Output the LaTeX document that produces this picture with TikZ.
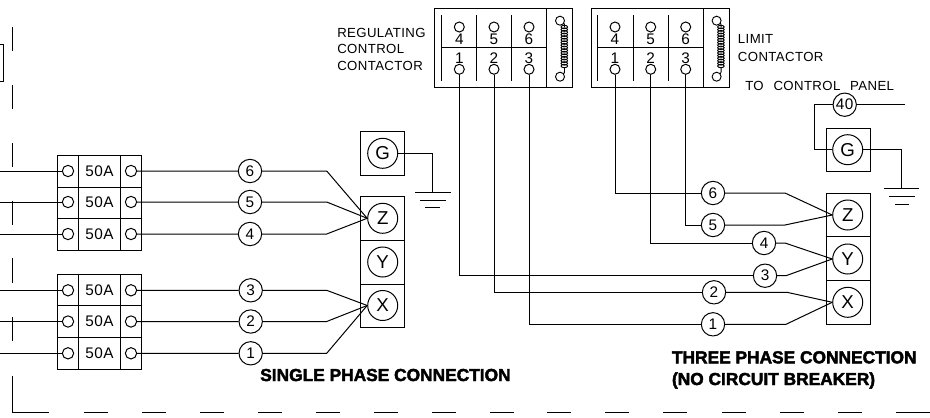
\documentclass[tikz,border=0pt]{standalone}
\usepackage{fontspec}
\setmainfont[LetterSpace=3,WordSpace=2.4]{Liberation Sans}
\newfontfamily\titlefont[FakeBold=2.5]{Liberation Sans Bold}
\usepackage{tikz}
\usetikzlibrary{calc}
\def\coilat(#1,#2){
	\draw[coilwire] (#1+1, #2-27.3) circle (4.5);
	\draw[coilwire] (#1+1, #2+28.7) circle (4.5);
	\draw[coilwire] (#1+4.5, #2-25) .. controls (#1+5.5, #2-24) .. (#1+5.5, #2-21);
	\draw[coilwire] (#1+4.5, #2+26) .. controls (#1+5.5, #2+25) .. (#1+5.5, #2+20);
	\foreach \coilstep in {-21,-18.4,...,20.5}
		\draw[coilwire] (#1+5.3, #2+\coilstep) ellipse (3.3 and 1.7);
}
\tikzset{
	plain/.style={line width=0.75pt, color=black},
	coilwire/.style={line width=0.7pt, color=black},
	frameline/.style={line width=0.8pt, color=black},
	termpt/.style={circle, draw, line width=0.75pt, minimum size=8.5pt, inner sep=0pt},
	contpt/.style={termpt, minimum size=7.5pt},
	wirenum/.style={circle, draw, line width=0.75pt, minimum size=17.5pt, inner sep=0pt, font=\fontsize{11.5}{11.5}\selectfont},
	phasept/.style={circle, draw, line width=0.75pt, minimum size=22.5pt, inner sep=0pt, font=\fontsize{14}{14}\selectfont},
	digit/.style={inner sep=0pt, font=\fontsize{11.5}{11.5}\selectfont},
	amps/.style={inner sep=0pt, font=\fontsize{11.5}{11.5}\selectfont},
	tag/.style={inner sep=0pt, anchor=base west, font=\fontsize{9.9}{9.9}\selectfont},
	title/.style={inner sep=0pt, anchor=base west, font=\fontsize{13}{13}\titlefont}
}
\begin{document}
\begin{tikzpicture}[x=0.75pt, y=-0.75pt]
	\useasboundingbox (0, 0) rectangle (930, 417);
	%%%%% FRAME %%%%%
	\draw[plain] (0, 44.7) -- (3.3, 44.7) -- (3.3, 81.7) -- (0, 81.7);
	\draw[frameline] (12.7, 27.3) -- (12.7, 50.7);
	\draw[frameline] (12.7, 85) -- (12.7, 109);
	\draw[frameline] (12.7, 143.3) -- (12.7, 166.7);
	\draw[frameline] (12.7, 201) -- (12.7, 225);
	\draw[frameline] (12.7, 258) -- (12.7, 283);
	\draw[frameline] (12.7, 317) -- (12.7, 341);
	\draw[frameline] (12.7, 375.7) -- (12.7, 412.3) -- (49.3, 412.3);
	\foreach \dashx in {84,142,200,258,316,374,432,490,547,605,663,722,780,838}
		\draw[frameline] (\dashx, 412.3) -- (\dashx+23.5, 412.3);
	\draw[frameline] (896, 412.3) -- (930, 412.3);

	%%%%% REGULATING CONTACTOR %%%%%
	\draw[plain] (434.7, 9) rectangle (572.7, 87.7);
	\draw[plain] (546.7, 9) -- (546.7, 87.7);
	\draw[plain] (441, 48) -- (546.7, 48);
	\draw[plain] (441, 15) -- (441, 81);
	\draw[plain] (476.7, 15) -- (476.7, 81);
	\draw[plain] (511.7, 15) -- (511.7, 81);
	\node[contpt] (ra4) at (459.3, 27) {};
	\node[contpt] (ra5) at (494, 27) {};
	\node[contpt] (ra6) at (529, 27) {};
	\node[contpt] (ra1) at (459.3, 69.3) {};
	\node[contpt] (ra2) at (494, 69.3) {};
	\node[contpt] (ra3) at (529, 69.3) {};
	\node[digit] (rd4) at (459.3, 39) {4};
	\node[digit] (rd5) at (494, 39) {5};
	\node[digit] (rd6) at (529, 39) {6};
	\node[digit] (rd1) at (459.3, 58) {1};
	\node[digit] (rd2) at (494, 58) {2};
	\node[digit] (rd3) at (529, 58) {3};
	\coilat(559, 48)
	\node[tag] (regA) at (337, 37.5) {REGULATING};
	\node[tag] (regB) at (337, 54) {CONTROL};
	\node[tag] (regC) at (337, 70.5) {CONTACTOR};

	%%%%% LIMIT CONTACTOR %%%%%
	\draw[plain] (591.3, 9) rectangle (729.3, 87.7);
	\draw[plain] (703.3, 9) -- (703.3, 87.7);
	\draw[plain] (597.6, 48) -- (703.3, 48);
	\draw[plain] (597.6, 15) -- (597.6, 81);
	\draw[plain] (633.3, 15) -- (633.3, 81);
	\draw[plain] (668.3, 15) -- (668.3, 81);
	\node[contpt] (li4) at (615, 27) {};
	\node[contpt] (li5) at (650.7, 27) {};
	\node[contpt] (li6) at (685.7, 27) {};
	\node[contpt] (li1) at (615, 69.3) {};
	\node[contpt] (li2) at (650.7, 69.3) {};
	\node[contpt] (li3) at (685.7, 69.3) {};
	\node[digit] (ld4) at (615, 39) {4};
	\node[digit] (ld5) at (650.7, 39) {5};
	\node[digit] (ld6) at (685.7, 39) {6};
	\node[digit] (ld1) at (615, 58) {1};
	\node[digit] (ld2) at (650.7, 58) {2};
	\node[digit] (ld3) at (685.7, 58) {3};
	\coilat(715.6, 48)
	\node[tag] (limA) at (737.7, 44) {LIMIT};
	\node[tag] (limB) at (737.7, 61.7) {CONTACTOR};
	\node[tag] (panel) at (745, 90.7) {TO CONTROL PANEL};

	%%%%% BREAKERS %%%%%
	\draw[plain] (57.3, 155.3) rectangle (141.7, 250);
	\draw[plain] (57.3, 187) -- (141.7, 187);
	\draw[plain] (57.3, 218.7) -- (141.7, 218.7);
	\draw[plain] (78.7, 155.3) -- (78.7, 250);
	\draw[plain] (120.3, 155.3) -- (120.3, 250);
	\draw[plain] (57.3, 274.3) rectangle (141.7, 369);
	\draw[plain] (57.3, 305.7) -- (141.7, 305.7);
	\draw[plain] (57.3, 337.3) -- (141.7, 337.3);
	\draw[plain] (78.7, 274.3) -- (78.7, 369);
	\draw[plain] (120.3, 274.3) -- (120.3, 369);
	\node[amps] (a6) at (99.5, 171) {50A};
	\node[amps] (a5) at (99.5, 202) {50A};
	\node[amps] (a4) at (99.5, 234) {50A};
	\node[amps] (a3) at (99.5, 290.3) {50A};
	\node[amps] (a2) at (99.5, 321.5) {50A};
	\node[amps] (a1) at (99.5, 353.3) {50A};
	\node[termpt] (bl6) at (68, 171) {};
	\node[termpt] (bl5) at (68, 202) {};
	\node[termpt] (bl4) at (68, 234) {};
	\node[termpt] (bl3) at (68, 290.3) {};
	\node[termpt] (bl2) at (68, 321.5) {};
	\node[termpt] (bl1) at (68, 353.3) {};
	\node[termpt] (br6) at (131, 171) {};
	\node[termpt] (br5) at (131, 202) {};
	\node[termpt] (br4) at (131, 234) {};
	\node[termpt] (br3) at (131, 290.3) {};
	\node[termpt] (br2) at (131, 321.5) {};
	\node[termpt] (br1) at (131, 353.3) {};
	\coordinate (in6) at (0, 171);
	\coordinate (in5) at (0, 202);
	\coordinate (in4) at (0, 234);
	\coordinate (in3) at (0, 290.3);
	\coordinate (in2) at (0, 321.5);
	\coordinate (in1) at (0, 353.3);
	\draw[plain] (in6) -- (bl6);
	\draw[plain] (in5) -- (bl5);
	\draw[plain] (in4) -- (bl4);
	\draw[plain] (in3) -- (bl3);
	\draw[plain] (in2) -- (bl2);
	\draw[plain] (in1) -- (bl1);

	%%%%% SINGLE PHASE %%%%%
	\draw[plain] (360.7, 131.3) rectangle (404.7, 175);
	\draw[plain] (360.7, 196.7) rectangle (404.7, 327.7);
	\draw[plain] (360.7, 240.4) -- (404.7, 240.4);
	\draw[plain] (360.7, 284) -- (404.7, 284);
	\node[phasept] (sG) at (382.7, 153.3) {G};
	\node[phasept] (sZ) at (382.7, 218.3) {Z};
	\node[phasept] (sY) at (382.7, 262) {Y};
	\node[phasept] (sX) at (382.7, 305.5) {X};
	\node[wirenum] (s6) at (250, 171) {6};
	\node[wirenum] (s5) at (250, 202) {5};
	\node[wirenum] (s4) at (250, 234) {4};
	\node[wirenum] (s3) at (250.7, 290.3) {3};
	\node[wirenum] (s2) at (250.7, 321.5) {2};
	\node[wirenum] (s1) at (250.7, 353.3) {1};
	\draw[plain] (br6) -- (s6) -- (326.7, 171) -- (sZ.west);
	\draw[plain] (br5) -- (s5) -- (326.7, 202) -- (sZ.west);
	\draw[plain] (br4) -- (s4) -- (326.7, 234) -- (sZ.west);
	\draw[plain] (br3) -- (s3) -- (326.7, 290.3) -- (sX.west);
	\draw[plain] (br2) -- (s2) -- (326.7, 321.5) -- (sX.west);
	\draw[plain] (br1) -- (s1) -- (326.7, 353.3) -- (sX.west);
	\coordinate (sgnd) at (432.7, 192);
	\draw[plain] (sG) -| (sgnd);
	\draw[plain] (415, 192) -- (450.7, 192);
	\draw[plain] (420, 200) -- (445.5, 200);
	\draw[plain] (425, 207.3) -- (440, 207.3);
	\node[title] (stitle) at (260, 381) {SINGLE PHASE CONNECTION};

	%%%%% THREE PHASE %%%%%
	\draw[plain] (826.7, 128.3) rectangle (870.3, 171.7);
	\draw[plain] (826.7, 193.3) rectangle (870.3, 324.3);
	\draw[plain] (826.7, 236.7) -- (870.3, 236.7);
	\draw[plain] (826.7, 280.7) -- (870.3, 280.7);
	\node[phasept] (tG) at (847.7, 149.7) {G};
	\node[phasept] (tZ) at (847.7, 215) {Z};
	\node[phasept] (tY) at (847.7, 259) {Y};
	\node[phasept] (tX) at (847.7, 302.3) {X};
	\node[wirenum] (t6) at (713, 193) {6};
	\node[wirenum] (t5) at (713, 225) {5};
	\node[wirenum] (t4) at (764, 243) {4};
	\node[wirenum] (t3) at (765, 275.7) {3};
	\node[wirenum] (t2) at (714, 292.3) {2};
	\node[wirenum] (t1) at (713, 324.3) {1};
	\draw[plain] (li1) |- (t6);
	\draw[plain] (li2) |- (t4);
	\draw[plain] (li3) |- (t5);
	\draw[plain] (ra1) |- (t3);
	\draw[plain] (ra2) |- (t2);
	\draw[plain] (ra3) |- (t1);
	\draw[plain] (t6) -- (785, 193) -- (tZ.west);
	\draw[plain] (t5) -- (785, 225) -- (tZ.west);
	\draw[plain] (t4) -- (785, 243) -- (tY.west);
	\draw[plain] (t3) -- (786, 275.7) -- (tY.west);
	\draw[plain] (t2) -- (787, 292.3) -- (tX.west);
	\draw[plain] (t1) -- (786, 324.3) -- (tX.west);
	\node[wirenum] (t40) at (844.7, 104.7) {40};
	\coordinate (panelend) at (905, 104.7);
	\draw[plain] (panelend) -- (t40);
	\draw[plain] (t40) -| (814.7, 149.7) -- (tG);
	\coordinate (tgnd) at (901.7, 188.3);
	\draw[plain] (tG) -| (tgnd);
	\draw[plain] (884.3, 188.3) -- (919.3, 188.3);
	\draw[plain] (889.3, 196) -- (914.7, 196);
	\draw[plain] (895, 204) -- (909.3, 204);
	\node[title] (ttitleA) at (671.7, 363.3) {THREE PHASE CONNECTION};
	\node[title] (ttitleB) at (671.7, 385) {(NO CIRCUIT BREAKER)};
\end{tikzpicture}
\end{document}
